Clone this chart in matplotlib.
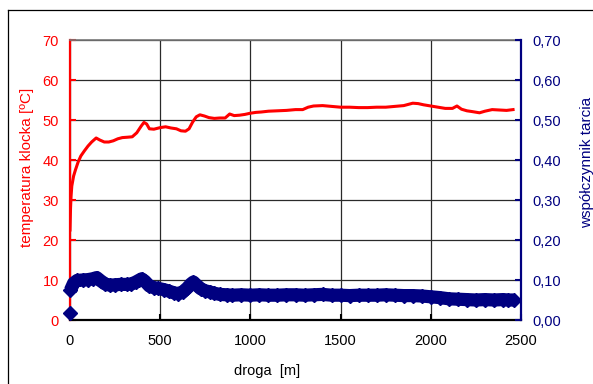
import matplotlib
matplotlib.use("Agg")
import matplotlib.pyplot as plt
from matplotlib.lines import Line2D

plt.rcParams['font.family'] = ['Liberation Sans', 'DejaVu Sans']

# Temperatura klocka [°C] w funkcji drogi tarcia [m]
droga_temp = [0, 3, 6, 10, 20, 30, 45, 60, 80, 100, 120, 145, 165, 190, 215, 240,
              265, 290, 320, 345, 370, 395, 410, 425, 440, 465, 500, 530, 560, 590,
              615, 640, 660, 680, 700, 720, 745, 770, 800, 830, 860, 885, 910, 940,
              970, 1000, 1030, 1060, 1100, 1150, 1200, 1250, 1290, 1320, 1350, 1400,
              1450, 1500, 1550, 1600, 1650, 1700, 1750, 1800, 1850, 1900, 1930, 1960,
              2000, 2040, 2080, 2120, 2145, 2170, 2200, 2230, 2270, 2300, 2340, 2380,
              2420, 2456]
temperatura = [22.5, 28.0, 31.0, 33.5, 36.0, 37.5, 39.5, 41.0, 42.3, 43.5, 44.5, 45.5,
               45.0, 44.5, 44.5, 44.8, 45.3, 45.6, 45.7, 45.8, 46.8, 48.5, 49.4, 49.0,
               47.8, 47.7, 48.1, 48.3, 48.0, 47.8, 47.3, 47.2, 47.8, 49.5, 50.8, 51.3,
               51.0, 50.6, 50.4, 50.5, 50.5, 51.5, 51.1, 51.2, 51.4, 51.7, 51.9, 52.0,
               52.2, 52.3, 52.4, 52.6, 52.6, 53.2, 53.5, 53.6, 53.4, 53.2, 53.2, 53.1,
               53.1, 53.2, 53.2, 53.4, 53.6, 54.2, 54.1, 53.8, 53.5, 53.2, 52.9, 52.9,
               53.5, 52.7, 52.3, 52.1, 51.8, 52.2, 52.6, 52.5, 52.4, 52.6]

# Współczynnik tarcia w funkcji drogi [m]
droga_mu = [0, 2, 20, 40, 70, 100, 125, 148, 170, 195, 222, 250, 280, 314, 340, 365,
            385, 397, 415, 440, 465, 490, 520, 550, 575, 600, 625, 650, 670, 684, 700,
            725, 750, 776, 800, 830, 869, 900, 950, 1000, 1050, 1100, 1150, 1200, 1250,
            1300, 1350, 1400, 1450, 1500, 1550, 1600, 1650, 1700, 1750, 1800, 1850,
            1900, 1950, 2000, 2050, 2100, 2150, 2200, 2250, 2300, 2350, 2400, 2430, 2460]
wsp_tarcia = [0.017, 0.074, 0.092, 0.099, 0.100, 0.101, 0.103, 0.106, 0.098, 0.090,
              0.087, 0.088, 0.089, 0.089, 0.090, 0.095, 0.100, 0.103, 0.097, 0.085,
              0.081, 0.079, 0.076, 0.072, 0.068, 0.066, 0.070, 0.080, 0.090, 0.095,
              0.088, 0.078, 0.073, 0.070, 0.067, 0.064, 0.063, 0.062, 0.063, 0.062,
              0.063, 0.062, 0.062, 0.063, 0.063, 0.062, 0.063, 0.064, 0.062, 0.062,
              0.061, 0.062, 0.062, 0.062, 0.063, 0.062, 0.061, 0.061, 0.060, 0.058,
              0.056, 0.053, 0.052, 0.051, 0.050, 0.051, 0.050, 0.051, 0.050, 0.050]

x_ticks = [0, 500, 1000, 1500, 2000, 2500]
t_ticks = [0, 10, 20, 30, 40, 50, 60, 70]
mu_ticks = [0.0, 0.1, 0.2, 0.3, 0.4, 0.5, 0.6, 0.7]

RED = '#FF0000'
NAVY = '#000080'

W, H = 593, 384
fig = plt.figure(figsize=(W / 100, H / 100), dpi=100)
ax1 = fig.add_axes([70 / W, 1 - 320 / H, (521 - 70) / W, (320 - 40) / H])
ax2 = ax1.twinx()

# temperatura
ax1.plot(droga_temp, temperatura, color=RED, lw=2.2, solid_joinstyle='round')
ax1.set_xlim(0, 2500)
ax1.set_ylim(0, 70)
ax1.set_xticks(x_ticks)
ax1.set_yticks(t_ticks)
ax1.set_yticklabels([str(v) for v in t_ticks])
ax1.grid(True, color='#2a2a2a', lw=0.9)
ax1.set_axisbelow(True)
ax1.spines['right'].set_visible(False)
ax1.spines['top'].set_color('#777777')
ax1.spines['top'].set_linewidth(1.2)
ax1.spines['left'].set_color(RED)
ax1.spines['left'].set_linewidth(1.6)
ax1.spines['bottom'].set_color('black')
ax1.spines['bottom'].set_linewidth(1.6)
ax1.tick_params(axis='y', direction='in', colors=RED, labelcolor=RED,
                length=4, width=1.5, labelsize=10.5, pad=8)
ax1.tick_params(axis='x', direction='in', colors='black', length=4, width=1.5,
                labelsize=10.5, pad=10)

# współczynnik tarcia
ax2.plot(droga_mu[1:], wsp_tarcia[1:], color=NAVY, lw=9.5, solid_joinstyle='round',
         solid_capstyle='butt', clip_on=False)
ax2.plot(droga_mu, wsp_tarcia, ls='none', marker='D', ms=7.5, color=NAVY,
         mec=NAVY, clip_on=False)
ax2.set_ylim(0, 0.7)
ax2.set_yticks(mu_ticks)
ax2.set_yticklabels([f"{v:.2f}".replace('.', ',') for v in mu_ticks])
for s in ('left', 'top', 'bottom'):
    ax2.spines[s].set_visible(False)
ax2.spines['right'].set_color(NAVY)
ax2.spines['right'].set_linewidth(1.6)
ax2.tick_params(axis='y', direction='in', colors=NAVY, labelcolor=NAVY,
                length=4, width=1.5, labelsize=10.5, pad=8)

# opisy osi
fig.text(27 / W, 1 - 167 / H, 'temperatura klocka [ºC]', rotation=90, color=RED,
         fontsize=11, ha='center', va='center')
fig.text(587 / W, 1 - 162 / H, 'współczynnik tarcia', rotation=90, color=NAVY,
         fontsize=11, ha='center', va='center')
fig.text(267 / W, 1 - 371 / H, 'droga  [m]', color='black', fontsize=10.5,
         ha='center', va='center')

# ramka wykresu
fig.add_artist(Line2D([8 / W, 8 / W], [1 - 10 / H, 0], color='black', lw=0.9,
                      transform=fig.transFigure))
fig.add_artist(Line2D([8 / W, 1], [1 - 10 / H, 1 - 10 / H], color='black', lw=0.9,
                      transform=fig.transFigure))

fig.savefig('out.png', dpi=100)
